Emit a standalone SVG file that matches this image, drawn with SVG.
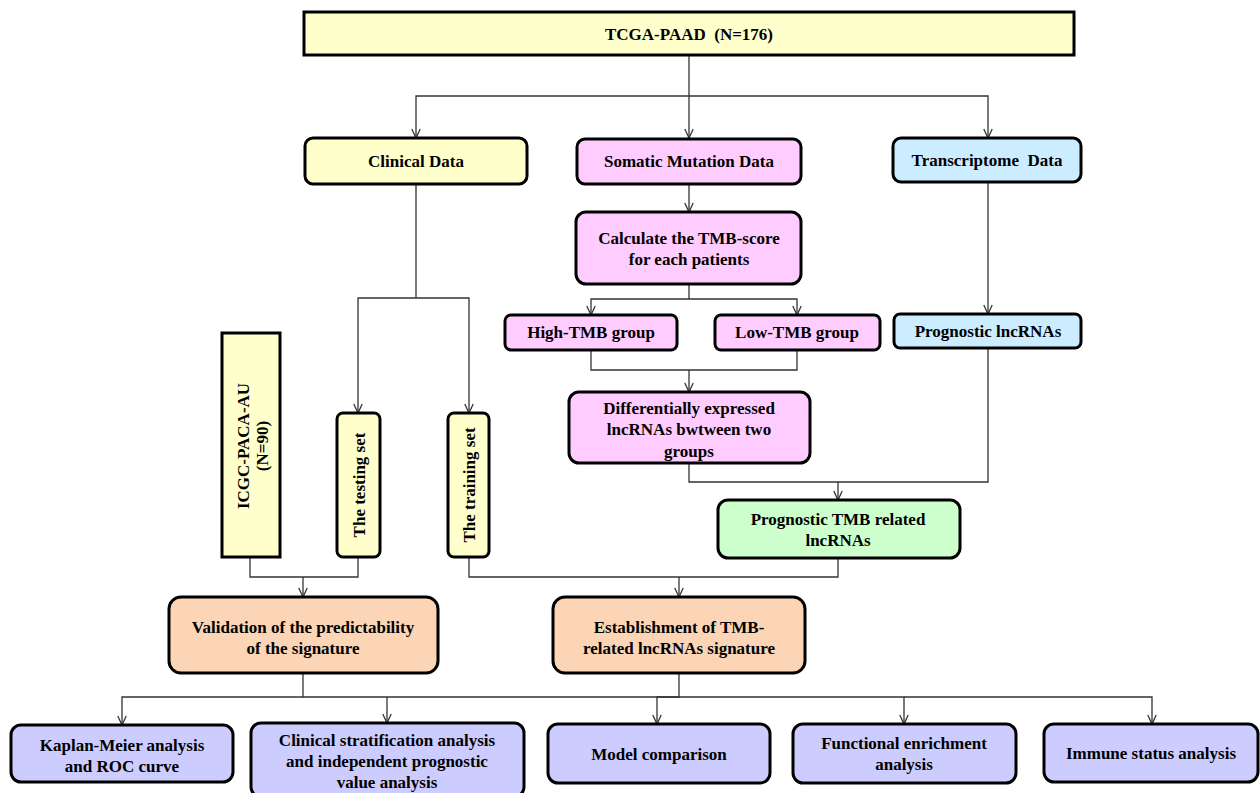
<svg xmlns="http://www.w3.org/2000/svg" width="1260" height="793" viewBox="0 0 1260 793">
<style>
.b{stroke:#000;stroke-width:3}
.y{fill:#FFFFCC}.p{fill:#FFCCFF}.c{fill:#CCECFF}.g{fill:#CCFFCC}.o{fill:#FBD5B5}.l{fill:#CCCCFF}
text{font-family:"Liberation Serif","Times New Roman",serif;font-weight:bold;font-size:17px;fill:#000;text-anchor:middle}
.pre{white-space:pre}
.cn path{fill:none;stroke:#333;stroke-width:1.3}
</style>
<defs>
<marker id="a" viewBox="0 0 10 10" refX="10" refY="5" markerWidth="10" markerHeight="10" markerUnits="userSpaceOnUse" orient="auto">
<path d="M1,0.8 L10,5 L1,9.2" fill="none" stroke="#333" stroke-width="1.3"/>
</marker>
</defs>
<rect width="1260" height="793" fill="#fff"/>
<g class="cn">
<path d="M689,55 V138" marker-end="url(#a)"/>
<path d="M689,96 H416 V138" marker-end="url(#a)"/>
<path d="M689,96 H988 V138" marker-end="url(#a)"/>
<path d="M416,184 V298"/>
<path d="M416,298 H358 V413" marker-end="url(#a)"/>
<path d="M416,298 H469 V413" marker-end="url(#a)"/>
<path d="M689,184 V212" marker-end="url(#a)"/>
<path d="M689,284 V299"/>
<path d="M689,299 H591 V315" marker-end="url(#a)"/>
<path d="M689,299 H797 V315" marker-end="url(#a)"/>
<path d="M591,350 V370 H797 V350"/>
<path d="M689,370 V392" marker-end="url(#a)"/>
<path d="M988,182 V314" marker-end="url(#a)"/>
<path d="M689,463 V482 H988 V348"/>
<path d="M838,482 V500" marker-end="url(#a)"/>
<path d="M250,557 V577 H358 V557"/>
<path d="M303,577 V597" marker-end="url(#a)"/>
<path d="M469,557 V577 H838 V558"/>
<path d="M679,577 V597" marker-end="url(#a)"/>
<path d="M303,673 V697 H679 V673"/>
<path d="M303,697 H122 V725" marker-end="url(#a)"/>
<path d="M387,697 V723" marker-end="url(#a)"/>
<path d="M679,697 H657 V724" marker-end="url(#a)"/>
<path d="M679,697 H904 V724" marker-end="url(#a)"/>
<path d="M904,697 H1152 V724" marker-end="url(#a)"/>
</g>
<g id="tcga"><rect class="b y" x="304" y="12" width="770" height="43"/><text class="pre" x="689" y="40">TCGA-PAAD  (N=176)</text></g>
<g id="clinical"><rect class="b y" x="305" y="138" width="222" height="46" rx="8"/><text x="416" y="167">Clinical Data</text></g>
<g id="somatic"><rect class="b p" x="577" y="139" width="224" height="45" rx="8"/><text x="689" y="167">Somatic Mutation Data</text></g>
<g id="transcriptome"><rect class="b c" x="893" y="138" width="188" height="44" rx="8"/><text class="pre" x="987" y="166">Transcriptome  Data</text></g>
<g id="calculate"><rect class="b p" x="576" y="212" width="225" height="72" rx="10"/><text x="689" y="244">Calculate the TMB-score</text><text x="689" y="265">for each patients</text></g>
<g id="high"><rect class="b p" x="505" y="315" width="172" height="35" rx="6"/><text x="591" y="338">High-TMB group</text></g>
<g id="low"><rect class="b p" x="715" y="315" width="165" height="35" rx="6"/><text x="797" y="338">Low-TMB group</text></g>
<g id="proglnc"><rect class="b c" x="894" y="314" width="187" height="34" rx="6"/><text x="988" y="337">Prognostic lncRNAs</text></g>
<g id="diff"><rect class="b p" x="569" y="392" width="241" height="71" rx="10"/><text x="689" y="414">Differentially expressed</text><text x="689" y="435">lncRNAs bwtween two</text><text x="689" y="457">groups</text></g>
<g id="ptmb"><rect class="b g" x="718" y="500" width="242" height="58" rx="10"/><text x="838" y="525">Prognostic TMB related</text><text x="838" y="546">lncRNAs</text></g>
<g id="icgc"><rect class="b y" x="222" y="333" width="58" height="224"/><text transform="translate(249,446) rotate(-90)">ICGC-PACA-AU</text><text transform="translate(268,446) rotate(-90)">(N=90)</text></g>
<g id="testing"><rect class="b y" x="337" y="413" width="43" height="144" rx="6"/><text transform="translate(365,485) rotate(-90)">The testing set</text></g>
<g id="training"><rect class="b y" x="448" y="413" width="41" height="144" rx="6"/><text transform="translate(475,485) rotate(-90)">The training set</text></g>
<g id="validation"><rect class="b o" x="169" y="597" width="269" height="76" rx="12"/><text x="303" y="633">Validation of the predictability</text><text x="303" y="654">of the signature</text></g>
<g id="establishment"><rect class="b o" x="553" y="597" width="252" height="76" rx="12"/><text x="679" y="633">Establishment of TMB-</text><text x="679" y="654">related lncRNAs signature</text></g>
<g id="kaplan"><rect class="b l" x="11" y="725" width="222" height="57" rx="10"/><text x="122" y="751">Kaplan-Meier analysis</text><text x="122" y="772">and ROC curve</text></g>
<g id="strat"><rect class="b l" x="251" y="723" width="273" height="74" rx="10"/><text x="387" y="746">Clinical stratification analysis</text><text x="387" y="767">and independent prognostic</text><text x="387" y="788">value analysis</text></g>
<g id="model"><rect class="b l" x="548" y="724" width="222" height="59" rx="10"/><text x="659" y="760">Model comparison</text></g>
<g id="functional"><rect class="b l" x="793" y="724" width="223" height="59" rx="10"/><text x="904" y="749">Functional enrichment</text><text x="904" y="770">analysis</text></g>
<g id="immune"><rect class="b l" x="1044" y="724" width="214" height="58" rx="10"/><text x="1151" y="759">Immune status analysis</text></g>
</svg>
